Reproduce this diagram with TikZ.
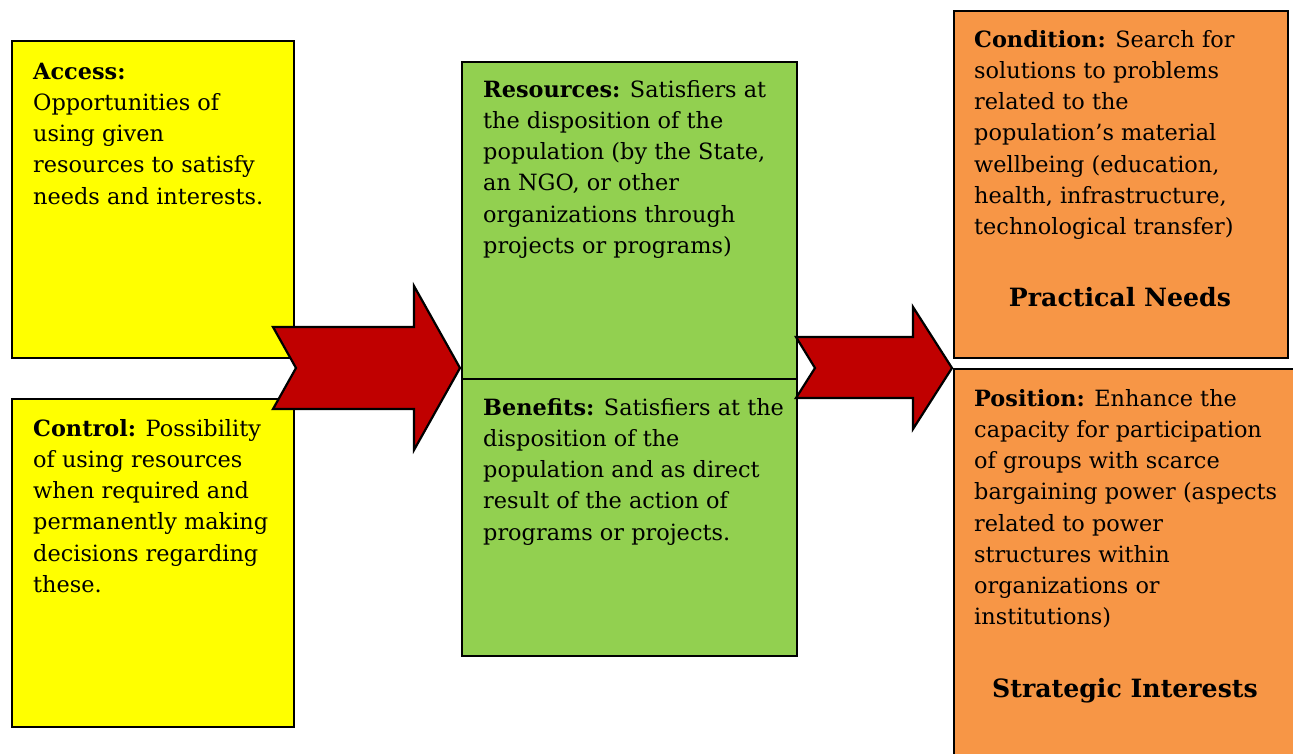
\documentclass[tikz,border=0pt]{standalone}
\usepackage{fontspec}
\setmainfont{DejaVu Serif}
\definecolor{ylw}{HTML}{FFFF00}
\definecolor{grn}{HTML}{92D050}
\definecolor{org}{HTML}{F79646}
\definecolor{rd}{HTML}{C00000}
\newcommand\tstrut{\rule{0pt}{20pt}}
\tikzset{
  box/.style={draw=black, line width=2pt, anchor=north west, inner sep=0pt},
  txt/.style={anchor=north west, align=left, inner sep=0pt, font=\fontsize{22.4}{31.2}\selectfont},
  head/.style={anchor=base, inner sep=0pt, font=\fontsize{25.2}{30}\selectfont\bfseries},
  bigarrow/.style={draw=black, line width=2.2pt, fill=rd, line join=miter}
}
\begin{document}
\begin{tikzpicture}[x=1pt,y=-1pt]
\useasboundingbox (0,0) rectangle (1293,753);
\clip (0,0) rectangle (1293,753);
% boxes
\node[box, fill=ylw, minimum width=282pt, minimum height=317pt] (access) at (11,40) {};
\node[box, fill=ylw, minimum width=282pt, minimum height=328pt] (control) at (11,398) {};
\node[box, fill=grn, minimum width=335pt, minimum height=317pt] (resources) at (461,61) {};
\node[box, fill=grn, minimum width=335pt, minimum height=277pt] (benefits) at (461,378) {};
\node[box, fill=org, minimum width=334pt, minimum height=347pt] (condition) at (953,10) {};
\node[box, fill=org, minimum width=360pt, minimum height=420pt] (position) at (953,368) {};
% arrows
\draw[bigarrow] (273,327) -- (414,327) -- (414,286) -- (460,368) -- (414,450) -- (414,409) -- (273,409) -- (296,368) -- cycle;
\draw[bigarrow] (796,337) -- (913,337) -- (913,307) -- (952,368) -- (913,429) -- (913,398) -- (796,398) -- (815,368) -- cycle;
% texts
\node[txt] (taccess) at (33,59) {\tstrut\textbf{Access:}\\Opportunities of\\using given\\resources to satisfy\\needs and interests.};
\node[txt] (tcontrol) at (33,416) {\tstrut\textbf{Control:} Possibility\\of using resources\\when required and\\permanently making\\decisions regarding\\these.};
\node[txt] (tresources) at (483,77) {\tstrut\textbf{Resources:} Satisfiers at\\the disposition of the\\population (by the State,\\an NGO, or other\\organizations through\\projects or programs)};
\node[txt] (tbenefits) at (483,395) {\tstrut\textbf{Benefits:} Satisfiers at the\\disposition of the\\population and as direct\\result of the action of\\programs or projects.};
\node[txt] (tcondition) at (974,27) {\tstrut\textbf{Condition:} Search for\\solutions to problems\\related to the\\population’s material\\wellbeing (education,\\health, infrastructure,\\technological transfer)};
\node[head] (tpractical) at (1120,306) {Practical Needs};
\node[txt] (tposition) at (974,386) {\tstrut\textbf{Position:} Enhance the\\capacity for participation\\of groups with scarce\\bargaining power (aspects\\related to power\\structures within\\organizations or\\institutions)};
\node[head] (tstrategic) at (1125,697) {Strategic Interests};
\end{tikzpicture}
\end{document}
